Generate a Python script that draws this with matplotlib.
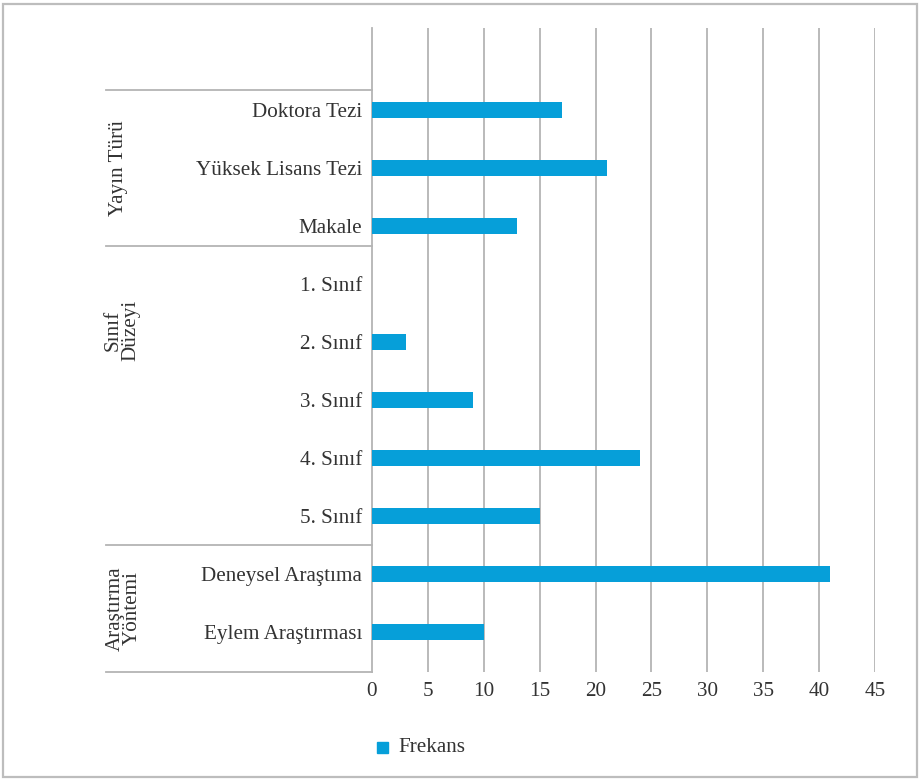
import matplotlib
matplotlib.use("Agg")
import matplotlib.pyplot as plt
from matplotlib.patches import Rectangle
from matplotlib.lines import Line2D
import matplotlib.transforms as mtransforms

# ---- data ----
categories = ["Doktora Tezi", "Yüksek Lisans Tezi", "Makale",
              "1. Sınıf", "2. Sınıf", "3. Sınıf", "4. Sınıf", "5. Sınıf",
              "Deneysel Araştıma", "Eylem Araştırması"]
frekans = [17, 21, 13, 0, 3, 9, 24, 15, 41, 10]
groups = ["Yayın Türü", "Sınıf\nDüzeyi", "Araştırma\nYöntemi"]
group_sizes = [3, 5, 2]
xticks = [0, 5, 10, 15, 20, 25, 30, 35, 40, 45]
series_name = "Frekans"

BAR = "#069FD9"
GRID = "#B4B4B4"
TXT = "#333333"
FONT = "Liberation Serif"
FS = 15.2

fig = plt.figure(figsize=(9.21, 7.81), dpi=100)
ax = fig.add_axes([0.4039, 0.1396, 0.9500 - 0.4039, 0.9641 - 0.1396])

n = len(categories)
ypos = [n - 1 - i for i in range(n)]
ax.barh(ypos, frekans, height=0.27, color=BAR, zorder=3)

ax.set_xlim(0, 45)
ax.set_ylim(-0.69, n - 1 + 1.41)
ax.set_xticks(xticks)
ax.set_xticklabels([str(t) for t in xticks], family=FONT, fontsize=FS, color=TXT)
ax.set_yticks(ypos)
ax.set_yticklabels(categories, family=FONT, fontsize=FS, color=TXT)
ax.tick_params(axis="both", length=0)
ax.tick_params(axis="x", pad=7)
ax.tick_params(axis="y", pad=7)

for t in xticks[1:]:
    ax.axvline(t, color=GRID, lw=1.3, zorder=1)
for s in ["top", "right", "bottom"]:
    ax.spines[s].set_visible(False)
ax.spines["left"].set_color(GRID)
ax.spines["left"].set_linewidth(1.3)

# group separators and labels
trans = mtransforms.blended_transform_factory(fig.transFigure, ax.transData)
sep_y = [9.345, 6.655, 1.5, -0.69]
x_left = 106 / 921
x_right = 372 / 921
for y in sep_y:
    fig.add_artist(Line2D([x_left, x_right], [y, y], transform=trans,
                          color=GRID, lw=1.3))
label_y = [(sep_y[0] + sep_y[1]) / 2, 5.2, (sep_y[2] + sep_y[3]) / 2]
label_x = [118 / 921, 122 / 921, 124 / 921]
for g, y, x in zip(groups, label_y, label_x):
    fig.text(x, y, g, transform=trans, rotation=90, ha="center", va="center",
             family=FONT, fontsize=FS, color=TXT, linespacing=0.85,
             multialignment="center")

# legend
fig.add_artist(Rectangle((377 / 921, 1 - 753 / 781), 11 / 921, 11 / 781,
                         transform=fig.transFigure, color=BAR))
fig.text(398 / 921, 1 - 748 / 781, series_name, family=FONT, fontsize=FS,
         color=TXT, va="center", ha="left")

# outer border
fig.add_artist(Rectangle((3 / 921, 4 / 781), 914 / 921, 773 / 781,
                         transform=fig.transFigure, fill=False,
                         edgecolor="#BDBDBD", lw=1.6))

fig.savefig("out.png", dpi=100)
